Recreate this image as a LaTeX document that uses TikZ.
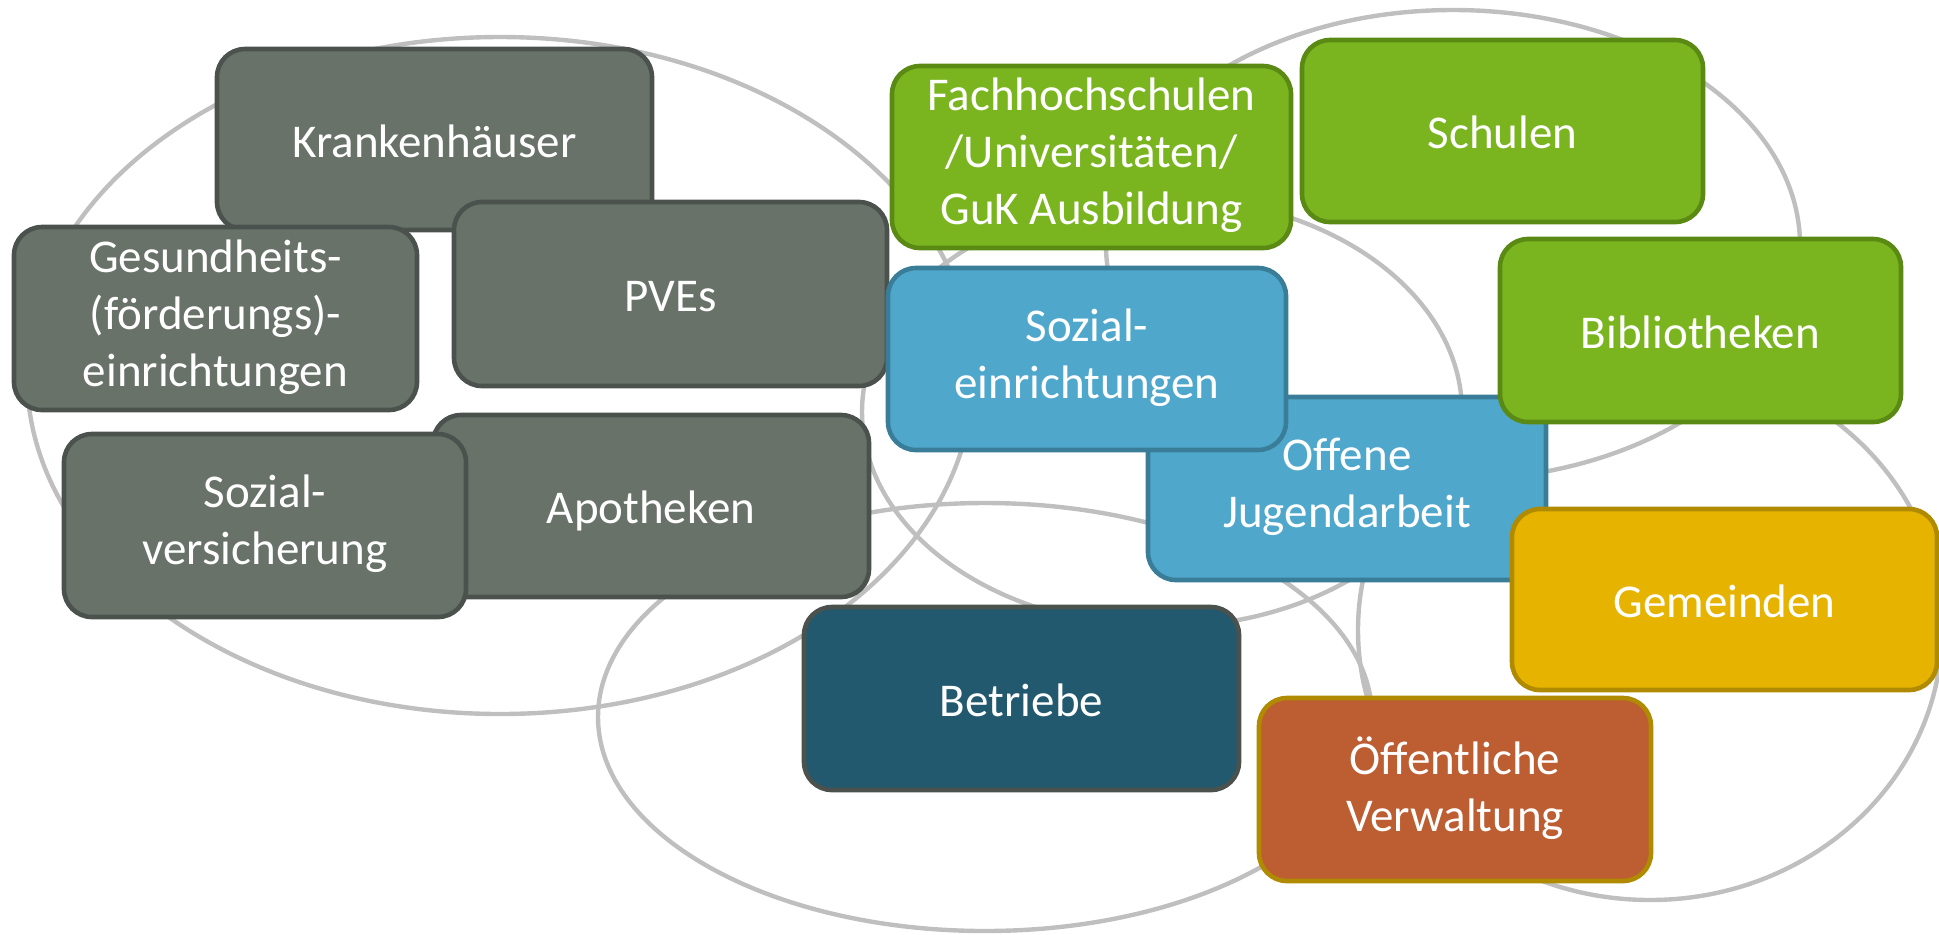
\documentclass[tikz,border=0pt]{standalone}
\usepackage{fontspec}
\setmainfont{Carlito}
\definecolor{ringgray}{HTML}{BFBFBF}
\definecolor{grayfill}{HTML}{687269}
\definecolor{grayline}{HTML}{4B524E}
\definecolor{greenfill}{HTML}{7AB520}
\definecolor{greenline}{HTML}{5A8A14}
\definecolor{bluefill}{HTML}{4FA8CB}
\definecolor{blueline}{HTML}{3A7D98}
\definecolor{tealfill}{HTML}{22596E}
\definecolor{goldfill}{HTML}{E6B400}
\definecolor{goldline}{HTML}{B08A00}
\definecolor{orangefill}{HTML}{BC5D32}
\newcommand\boxstrut{\vrule width0pt height23pt depth5.5pt}
\begin{document}
\begin{tikzpicture}[x=0.5pt,y=-0.5pt,
  ring/.style={draw=ringgray, line width=2.2pt},
  box/.style={rounded corners=14pt, line width=2.3pt, text=white, align=center,
    font=\fontsize{23.5}{28.5}\selectfont, inner sep=0pt,
    execute at begin node=\boxstrut, execute at end node=\boxstrut},
  graybox/.style={box, fill=grayfill, draw=grayline},
  greenbox/.style={box, fill=greenfill, draw=greenline},
  bluebox/.style={box, fill=bluefill, draw=blueline},
  tealbox/.style={box, fill=tealfill, draw=grayline},
  goldbox/.style={box, fill=goldfill, draw=goldline},
  orangebox/.style={box, fill=orangefill, draw=goldline}]
\useasboundingbox (0,0) rectangle (1939,934);
% groups (ellipses)
\draw[ring] (500,375.5) ellipse [x radius=236.5pt, y radius=169.25pt];
\draw[ring] (1453,245) ellipse [x radius=173.5pt, y radius=117.5pt];
\draw[ring] (1162,412) ellipse [x radius=150pt, y radius=107.5pt];
\draw[ring] (985,717) ellipse [x radius=193.5pt, y radius=107pt];
\draw[ring] (1650,630) ellipse [x radius=146pt, y radius=135pt];
% health
\node[graybox, minimum width=217.5pt, minimum height=90.5pt] (kh) at (434.5,139.5) {Krankenhäuser};
\node[graybox, minimum width=201.5pt, minimum height=91.5pt] (ges) at (215.5,318.5) {Gesundheits-\\(förderungs)-\\einrichtungen};
\node[graybox, minimum width=216.5pt, minimum height=92pt] (pve) at (670.5,294) {PVEs};
\node[graybox, minimum width=218pt, minimum height=91pt] (apo) at (651,506) {Apotheken};
\node[graybox, minimum width=201pt, minimum height=91.5pt] (sv) at (265,525.5) {Sozial-\\versicherung};
% education
\node[greenbox, minimum width=199.5pt, minimum height=91pt] (fh) at (1091.5,157) {Fachhochschulen\\/Universitäten/\\GuK Ausbildung};
\node[greenbox, minimum width=200.5pt, minimum height=91pt] (sch) at (1502.5,131) {Schulen};
% social
\node[bluebox, minimum width=199pt, minimum height=91.5pt] (oj) at (1347,488.5) {Offene\\Jugendarbeit};
\node[bluebox, minimum width=199pt, minimum height=91pt] (se) at (1087,359) {Sozial-\\einrichtungen};
\node[greenbox, minimum width=200.5pt, minimum height=91.5pt] (bib) at (1700.5,330.5) {Bibliotheken};
% communities, business, administration
\node[goldbox, minimum width=212.5pt, minimum height=90.5pt] (gem) at (1724.5,599.5) {Gemeinden};
\node[tealbox, minimum width=217.5pt, minimum height=91.5pt] (bet) at (1021.5,698.5) {Betriebe};
\node[orangebox, minimum width=196pt, minimum height=91.5pt] (oev) at (1455,789.5) {Öffentliche\\Verwaltung};
\end{tikzpicture}
\end{document}
